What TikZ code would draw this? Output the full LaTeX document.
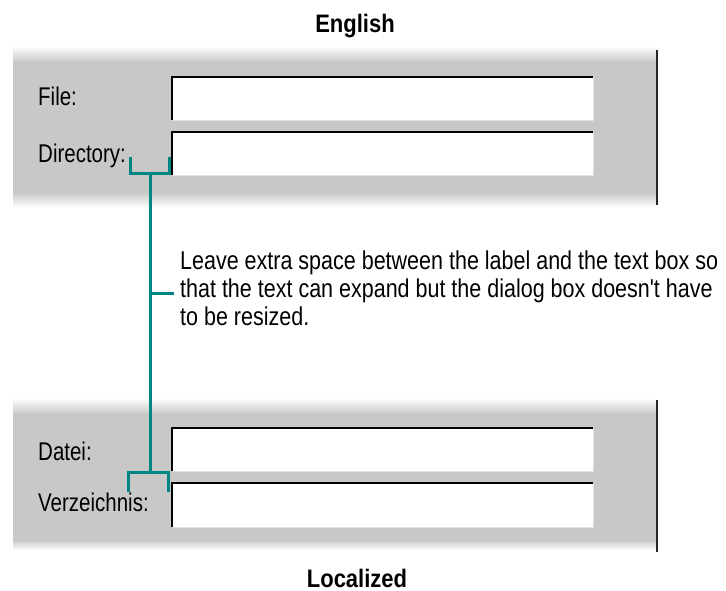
\documentclass[tikz,border=0pt]{standalone}
\usepackage{fontspec}
\usepackage{graphicx}
\setmainfont{Liberation Sans}
\definecolor{panelgray}{RGB}{200,200,200}
\definecolor{bracketteal}{RGB}{0,133,133}
\definecolor{edgelight}{RGB}{225,225,225}
\newcommand\vstr[1]{\scalebox{1}[1.25]{#1}}
\newcommand\vstrp[1]{\scalebox{1}[1.2]{#1}}
\begin{document}
\begin{tikzpicture}[x=1pt,y=-1pt,
  lbl/.style={anchor=base west, inner sep=0pt, font=\fontsize{20.5}{24}\selectfont},
  ttl/.style={anchor=base, inner sep=0pt, font=\fontsize{22}{26}\selectfont\bfseries},
  tbox/.style={anchor=north west, inner sep=0pt, fill=white, draw=none, minimum width=421pt, minimum height=43pt},
  sunken/.style={line width=2.5pt, black},
  lightedge/.style={line width=1.5pt, edgelight},
  brk/.style={line width=3pt, bracketteal},
  shadowline/.style={line width=2.5pt, black!85}]
\useasboundingbox (0,0) rectangle (726,591);
\fill[white] (0,0) rectangle (726,591);

% ---- top panel ----
\fill[panelgray] (13,62) rectangle (657,192);
\shade[top color=white, bottom color=panelgray] (13,46) rectangle (657,62);
\shade[top color=panelgray, bottom color=white] (13,192) rectangle (657,208);
\draw[shadowline] (657,50) -- (657,205);

% ---- bottom panel ----
\fill[panelgray] (13,414) rectangle (657,540);
\shade[top color=white, bottom color=panelgray] (13,398) rectangle (657,414);
\shade[top color=panelgray, bottom color=white] (13,540) rectangle (657,550);
\draw[shadowline] (657,400) -- (657,552);

% ---- titles ----
\node[ttl] (english) at (355,33) {\scalebox{1}[1.15]{English}};
\node[ttl] (localized) at (357,587) {\scalebox{1}[1.15]{Localized}};

% ---- labels ----
\node[lbl] (file) at (38,106) {\vstr{File:}};
\node[lbl] (dir) at (38,163) {\vstr{Directory:}};
\node[lbl] (datei) at (38,460) {\vstr{Datei:}};
\node[lbl] (verz) at (38,511) {\vstr{Verzeichnis:}};

% ---- text boxes ----
\node[tbox] (fbox) at (172,77) {};
\node[tbox] (dbox) at (172,132) {};
\node[tbox] (gbox) at (172,428) {};
\node[tbox, minimum height=44pt] (vbox) at (172,483) {};
\foreach \b in {fbox,dbox,gbox,vbox}{
  \draw[lightedge] (\b.north east) -- (\b.south east) -- (\b.south west);
  \draw[sunken] (\b.south west) -- (\b.north west) -- (\b.north east);
}

% ---- brackets ----
\coordinate (bt1) at (130,157);
\coordinate (bt2) at (169,157);
\coordinate (bjt) at (150,174);
\coordinate (bb1) at (128,492);
\coordinate (bb2) at (168,492);
\coordinate (bjb) at (150,472);
\coordinate (mid) at (150,293);
\draw[brk] (bt1) |- (bjt) -| (bt2);
\draw[brk] (bb1) |- (bjb) -| (bb2);
\draw[brk] (bjt) -- (bjb);

% ---- note ----
\node[anchor=west, inner sep=0pt, font=\fontsize{21.5}{23}\selectfont] (note) at (180,292)
  {\vstrp{\begin{tabular}{@{}l@{}}Leave extra space between the label and the text box so\\
  that the text can expand but the dialog box doesn\textquotesingle t have\\
  to be resized.\end{tabular}}};
\draw[brk, shorten >=6pt] (mid) -- (mid -| note.west);
\end{tikzpicture}
\end{document}
